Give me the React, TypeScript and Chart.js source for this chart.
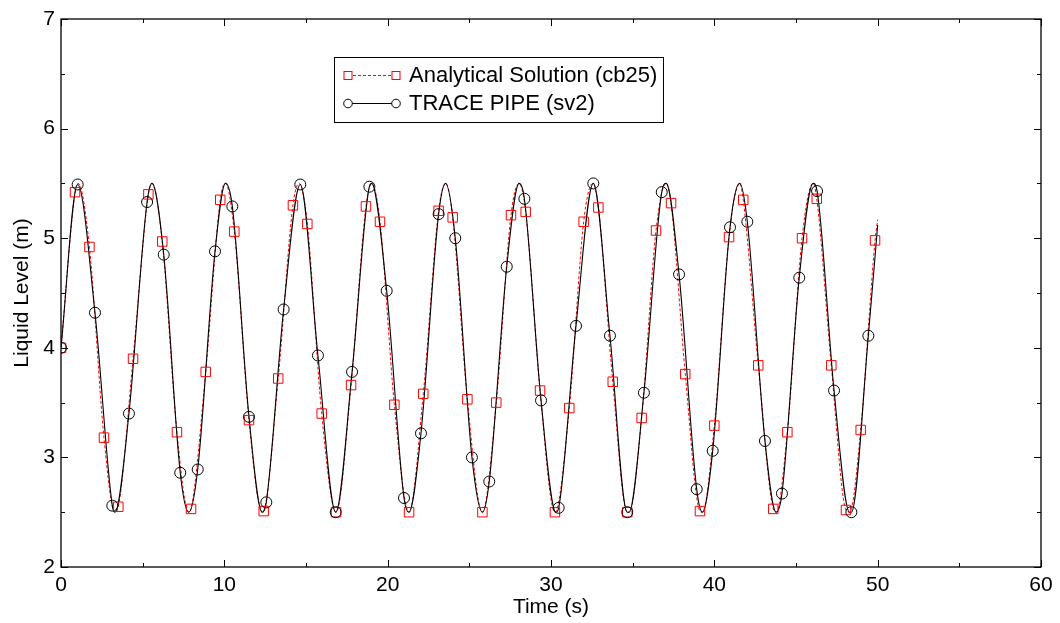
import React, { useEffect, useRef } from 'react';
import { Chart, registerables } from 'chart.js';

Chart.register(...registerables);

// ---- Data ----
const analyticalTime = [
  0, 0.86, 1.74, 2.63, 3.51, 4.41, 5.35, 6.2, 7.1, 7.96, 8.86, 9.75, 10.61, 11.51, 12.41, 13.3,
  14.2, 15.08, 15.96, 16.84, 17.76, 18.67, 19.53, 20.41, 21.31, 22.18, 23.12, 23.98, 24.88, 25.8,
  26.65, 27.55, 28.45, 29.33, 30.24, 31.12, 32.0, 32.9, 33.78, 34.67, 35.55, 36.43, 37.35, 38.22,
  39.12, 40.0, 40.9, 41.77, 42.69, 43.61, 44.47, 45.37, 46.27, 47.16, 48.06, 48.96, 49.84,
];
const analyticalLevel = [
  4.0, 5.42, 4.92, 3.18, 2.55, 3.9, 5.4, 4.97, 3.23, 2.53, 3.78, 5.35, 5.06, 3.34, 2.51, 3.72,
  5.3, 5.13, 3.4, 2.5, 3.66, 5.29, 5.15, 3.48, 2.5, 3.58, 5.25, 5.19, 3.53, 2.5,
  3.5, 5.21, 5.24, 3.61, 2.5, 3.45, 5.15, 5.28, 3.69, 2.5, 3.36, 5.07, 5.32, 3.76,
  2.51, 3.29, 5.01, 5.35, 3.84, 2.53, 3.23, 5.0, 5.36, 3.84, 2.52, 3.25, 4.98,
];
const traceTime = [
  0, 1.02, 2.08, 3.14, 4.16, 5.27, 6.29, 7.3, 8.37, 9.43, 10.49, 11.51, 12.57, 13.63, 14.65, 15.73,
  16.82, 17.82, 18.88, 19.94, 21.0, 22.04, 23.12, 24.14, 25.16, 26.22, 27.29, 28.37, 29.39, 30.47,
  31.53, 32.59, 33.61, 34.67, 35.69, 36.78, 37.84, 38.92, 39.9, 40.96, 42.02, 43.1, 44.14, 45.2,
  46.29, 47.33, 48.39, 49.43,
];
const traceLevel = [
  4.0, 5.49, 4.32, 2.56, 3.4, 5.33, 4.85, 2.86, 2.89, 4.88, 5.29, 3.37, 2.59, 4.35, 5.49, 3.93,
  2.5, 3.78, 5.47, 4.52, 2.63, 3.22, 5.22, 5.0, 3.0, 2.78, 4.74, 5.36, 3.52, 2.54,
  4.2, 5.5, 4.11, 2.5, 3.59, 5.42, 4.67, 2.71, 3.06, 5.1, 5.15, 3.15, 2.67, 4.64,
  5.43, 3.61, 2.5, 4.11,
];
// crests and troughs of the plotted curves
const peakTime = [1.05, 5.57, 10.07, 14.58, 19.02, 23.55, 28.05, 32.56, 37.05, 41.55, 46.05];
const peakLevel = [5.5, 5.5, 5.5, 5.5, 5.5, 5.5, 5.5, 5.5, 5.5, 5.5, 5.5];
const troughTime = [3.3, 7.82, 12.32, 16.82, 21.3, 25.8, 30.3, 34.78, 39.27, 43.78, 48.28];
const troughLevel = [2.5, 2.5, 2.5, 2.5, 2.5, 2.5, 2.5, 2.5, 2.5, 2.5, 2.5];
// last point of each curve
const analyticalEnd = [50, 5.17];
const traceEnd = [50, 5.12];

const xTicks = [0, 10, 20, 30, 40, 50, 60];
const yTicks = [2, 3, 4, 5, 6, 7];
const xMinorTicks = [5, 15, 25, 35, 45, 55];
const yMinorTicks = [2.5, 3.5, 4.5, 5.5, 6.5];
const seriesLabels = ['Analytical Solution (cb25)', 'TRACE PIPE (sv2)'];
const xTitle = 'Time (s)';
const yTitle = 'Liquid Level (m)';

const FONT = "'Liberation Sans', Arial, Helvetica, sans-serif";

function curvePoints(ts: number[], vs: number[], end: number[]) {
  const pts = ts.map((t, i) => ({ x: t, y: vs[i] }));
  const extrema = [
    ...peakTime.map((t, i) => ({ x: t, y: peakLevel[i] })),
    ...troughTime.map((t, i) => ({ x: t, y: troughLevel[i] })),
  ];
  for (const e of extrema) {
    if (!pts.some((p) => Math.abs(p.x - e.x) < 0.08)) pts.push(e);
  }
  pts.push({ x: end[0], y: end[1] });
  pts.sort((a, b) => a.x - b.x);
  return pts;
}

const framePlugin = {
  id: 'frameTicksLegend',
  afterDatasetsDraw(chart: any) {
    const { ctx, chartArea, scales } = chart;
    const { left, right, top, bottom } = chartArea;
    const xs = scales.x;
    const ys = scales.y;
    ctx.save();
    ctx.strokeStyle = '#000';
    ctx.lineWidth = 1.3;
    ctx.setLineDash([]);
    ctx.strokeRect(left, top, right - left, bottom - top);
    ctx.lineWidth = 1;
    const major = 7;
    const minor = 4;
    ctx.beginPath();
    const xt = (vals: number[], len: number) => {
      for (const v of vals) {
        const p = Math.round(xs.getPixelForValue(v)) + 0.5;
        ctx.moveTo(p, bottom);
        ctx.lineTo(p, bottom - len);
        ctx.moveTo(p, top);
        ctx.lineTo(p, top + len);
      }
    };
    const yt = (vals: number[], len: number) => {
      for (const v of vals) {
        const p = Math.round(ys.getPixelForValue(v)) + 0.5;
        ctx.moveTo(left, p);
        ctx.lineTo(left + len, p);
        ctx.moveTo(right, p);
        ctx.lineTo(right - len, p);
      }
    };
    xt(xTicks, major);
    xt(xMinorTicks, minor);
    yt(yTicks, major);
    yt(yMinorTicks, minor);
    ctx.stroke();

    // legend
    const bx = 334.5, by = 57.5, bw = 329, bh = 65;
    ctx.fillStyle = '#fff';
    ctx.fillRect(bx, by, bw, bh);
    ctx.strokeStyle = '#000';
    ctx.lineWidth = 1;
    ctx.strokeRect(bx, by, bw, bh);

    const y1 = 75.5, y2 = 103.5;
    const m1 = 348, m2 = 396;
    // analytical
    ctx.strokeStyle = '#ff0000';
    ctx.setLineDash([3, 2]);
    ctx.beginPath();
    ctx.moveTo(m1, y1);
    ctx.lineTo(m2, y1);
    ctx.stroke();
    ctx.setLineDash([]);
    const sq = 4;
    ctx.fillStyle = '#fff';
    for (const m of [m1, m2]) {
      ctx.fillRect(m - sq, y1 - sq, 2 * sq, 2 * sq);
      ctx.strokeRect(m - sq, y1 - sq, 2 * sq, 2 * sq);
    }
    // trace
    ctx.strokeStyle = '#000';
    ctx.beginPath();
    ctx.moveTo(m1, y2);
    ctx.lineTo(m2, y2);
    ctx.stroke();
    for (const m of [m1, m2]) {
      ctx.beginPath();
      ctx.arc(m, y2, 4.3, 0, Math.PI * 2);
      ctx.fill();
      ctx.stroke();
    }
    ctx.fillStyle = '#000';
    ctx.font = `22px ${FONT}`;
    ctx.textBaseline = 'middle';
    ctx.textAlign = 'left';
    ctx.fillText(seriesLabels[0], 409, y1);
    ctx.fillText(seriesLabels[1], 409, y2);
    ctx.restore();
  },
};

export default function App() {
  const ref = useRef<HTMLCanvasElement | null>(null);

  useEffect(() => {
    document.body.style.margin = '0';
    const canvas = ref.current;
    if (!canvas) return;
    const analyticalLine = curvePoints(analyticalTime, analyticalLevel, analyticalEnd);
    const traceLine = curvePoints(traceTime, traceLevel, traceEnd);
    const tickFont = { family: FONT, size: 21 };
    const chart = new Chart(canvas, {
      type: 'line',
      data: {
        datasets: [
          {
            label: seriesLabels[1] + ' markers',
            data: traceTime.map((t, i) => ({ x: t, y: traceLevel[i] })),
            showLine: false,
            pointStyle: 'circle',
            pointRadius: 5.5,
            pointBorderWidth: 1,
            pointBorderColor: '#000',
            pointBackgroundColor: 'rgba(0,0,0,0)',
            order: 0,
          },
          {
            label: seriesLabels[0] + ' markers',
            data: analyticalTime.map((t, i) => ({ x: t, y: analyticalLevel[i] })),
            showLine: false,
            pointStyle: 'rect',
            pointRadius: 6.7,
            pointBorderWidth: 1,
            pointBorderColor: '#ff0000',
            pointBackgroundColor: 'rgba(0,0,0,0)',
            order: 1,
          },
          {
            label: seriesLabels[1],
            data: traceLine,
            borderColor: '#000',
            borderWidth: 1.1,
            pointRadius: 0,
            cubicInterpolationMode: 'monotone',
            fill: false,
            order: 2,
          },
          {
            label: seriesLabels[0],
            data: analyticalLine,
            borderColor: '#ff0000',
            borderWidth: 1,
            borderDash: [3, 2],
            pointRadius: 0,
            cubicInterpolationMode: 'monotone',
            fill: false,
            order: 3,
          },
        ],
      },
      options: {
        responsive: false,
        animation: false,
        devicePixelRatio: 1,
        layout: { padding: { top: 19, right: 19, left: 0, bottom: 0 } },
        plugins: { legend: { display: false }, tooltip: { enabled: false } },
        scales: {
          x: {
            type: 'linear',
            min: 0,
            max: 60,
            afterBuildTicks: (s: any) => {
              s.ticks = xTicks.map((v) => ({ value: v }));
            },
            afterFit: (s: any) => {
              s.height = 56;
            },
            grid: { display: false, drawTicks: false },
            border: { display: false },
            ticks: { padding: 6, font: tickFont, color: '#000', maxRotation: 0, autoSkip: false },
            title: {
              display: true,
              text: xTitle,
              color: '#000',
              font: tickFont,
              padding: { top: 0, bottom: 3 },
            },
          },
          y: {
            type: 'linear',
            min: 2,
            max: 7,
            afterBuildTicks: (s: any) => {
              s.ticks = yTicks.map((v) => ({ value: v }));
            },
            afterFit: (s: any) => {
              s.width = 61;
            },
            grid: { display: false, drawTicks: false },
            border: { display: false },
            ticks: { padding: 6, font: tickFont, color: '#000', autoSkip: false },
            title: {
              display: true,
              text: yTitle,
              color: '#000',
              font: tickFont,
              padding: { top: 10, bottom: 0 },
            },
          },
        },
      },
      plugins: [framePlugin],
    } as any);
    return () => chart.destroy();
  }, []);

  return (
    <div style={{ width: 1060, height: 623, background: '#fff' }}>
      <canvas ref={ref} width={1060} height={623} style={{ display: 'block' }} />
    </div>
  );
}
